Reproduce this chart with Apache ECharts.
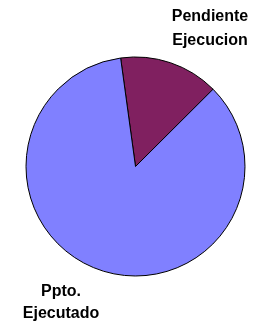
<!DOCTYPE html>
<html>
<head>
<meta charset="utf-8">
<script src="https://cdn.jsdelivr.net/npm/echarts@6/dist/echarts.min.js"></script>
<style>
  html, body { margin: 0; padding: 0; background: #fff; }
  #chart { width: 254px; height: 323px; }
</style>
</head>
<body>
<div id="chart"></div>
<script>
  // categories and values
  var names = ['Pendiente\nEjecucion', 'Ppto.\nEjecutado'];
  var values = [14.7, 85.3];
  var colors = ['#802060', '#8080FF'];

  // where each label block sits (center)
  var labelPos = [[210, 29], [61, 303]];
  var lineHeights = [24, 22];

  var myChart = echarts.init(document.getElementById('chart'), null, {renderer: 'canvas'});
  var option = {
    animation: false,
    series: [
      {
        type: 'pie',
        center: [135.5, 166.5],
        radius: [0, 109.5],
        startAngle: 97.8,
        clockwise: true,
        avoidLabelOverlap: false,
        itemStyle: {
          borderColor: '#000',
          borderWidth: 1
        },
        label: {
          show: true,
          position: 'outside',
          color: '#000',
          fontFamily: 'Liberation Sans, Arial, sans-serif',
          fontWeight: 'bold',
          fontSize: 16,
          align: 'center'
        },
        labelLine: { show: false },
        labelLayout: function (params) {
          var p = labelPos[params.dataIndex];
          return { x: p[0], y: p[1], align: 'center', verticalAlign: 'middle' };
        },
        data: names.map(function (n, i) {
          return {
            name: n,
            value: values[i],
            itemStyle: { color: colors[i] },
            label: { lineHeight: lineHeights[i] }
          };
        })
      }
    ]
  };
  myChart.setOption(option);
</script>
</body>
</html>
